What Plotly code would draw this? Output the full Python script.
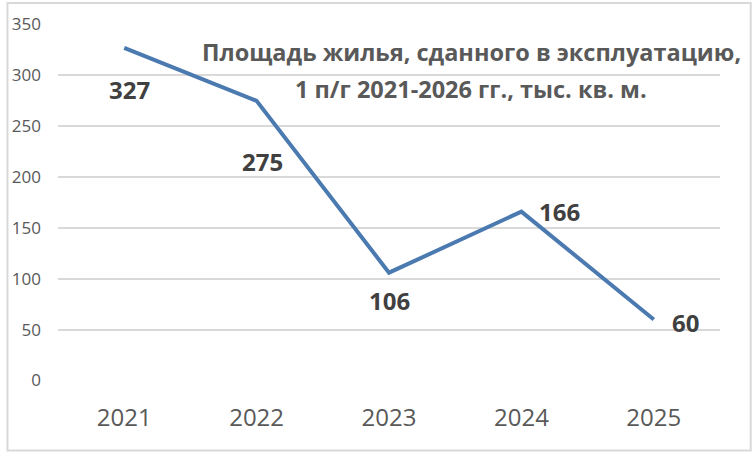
import plotly.graph_objects as go

years = ["2021", "2022", "2023", "2024", "2025"]
values = [327, 275, 106, 166, 60]
label_dx = [5, 6, 0, 38, 32]
label_dy = [-42, -61, -28, 0, -3]
title_lines = ["Площадь жилья, сданного в эксплуатацию,", "1 п/г 2021-2026 гг., тыс. кв. м."]
title_y_px = [50, 87]

W, H = 752, 452
ml, mr, mt, mb = 52, 32, 22, 71
pw, ph = W - ml - mr, H - mt - mb
FONT = "Open Sans"

fig = go.Figure()
fig.add_trace(go.Scatter(
    x=list(range(len(years))), y=values, mode="lines",
    line=dict(color="#4A7AB0", width=4), hoverinfo="skip"))

for i, v in enumerate(values):
    fig.add_annotation(x=i, y=v, text=f"<b>{v}</b>", showarrow=False,
                       xshift=label_dx[i], yshift=label_dy[i],
                       font=dict(family=FONT, size=24, color="#404040"))

for line, ypx in zip(title_lines, title_y_px):
    fig.add_annotation(xref="paper", yref="paper", x=(469 - ml) / pw, y=(H - mb - ypx) / ph,
                       text=f"<b>{line}</b>", showarrow=False, xanchor="center", yanchor="middle",
                       font=dict(family=FONT, size=23.5, color="#595959"))

fig.add_shape(type="rect", xref="paper", yref="paper",
              x0=(-ml + 1) / pw, x1=(pw + mr - 1) / pw,
              y0=(-mb + 1) / ph, y1=(ph + mt - 1) / ph,
              line=dict(color="#D9D9D9", width=2), fillcolor="rgba(0,0,0,0)")

fig.update_layout(
    width=W, height=H, margin=dict(l=ml, r=mr, t=mt, b=mb),
    paper_bgcolor="white", plot_bgcolor="white", showlegend=False,
    xaxis=dict(range=[-0.5, 4.5], tickmode="array", tickvals=list(range(len(years))),
               ticktext=years, showgrid=False, zeroline=False, showline=False,
               ticks="", tickfont=dict(family=FONT, size=24, color="#595959"),
               ticklabelstandoff=20),
    yaxis=dict(range=[-0.5, 350.5], tickmode="array", tickvals=[0, 50, 100, 150, 200, 250, 300, 350],
               showgrid=True, gridcolor="#D9D9D9", gridwidth=2, zeroline=False,
               showline=False, ticks="", tickfont=dict(family=FONT, size=17, color="#595959"),
               ticklabelstandoff=16),
)

fig.write_html("out.html", config={"displayModeBar": False},
               post_script="document.documentElement.style.overflow='hidden';document.body.style.margin='0';document.body.style.padding='0';document.body.style.overflow='hidden';window.scrollTo(0,0);")
